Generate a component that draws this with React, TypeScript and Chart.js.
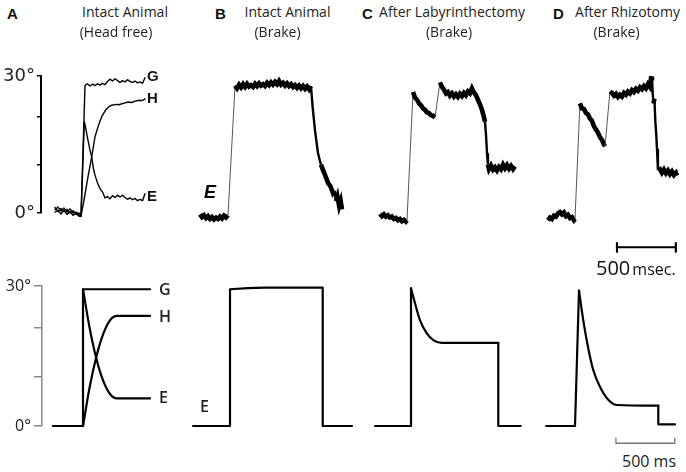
import React, { useEffect, useRef } from "react";
import { Chart, registerables } from "chart.js";

Chart.register(...registerables);

// ---------------- DATA (time in ms from step onset, angle in degrees) ----------------
const Y_TICKS = [0, 10.5, 21, 30];
const Y_TICK_LABELS = ["0°", "", "", "30°"];
const SCALE_BAR_MS = 500;
const SCALE_BAR_TOP_LABEL = ["500", "msec."];
const SCALE_BAR_BOT_LABEL = "500 ms";
const PANEL_LETTERS = ["A", "B", "C", "D"];
const PANEL_TITLES = ["Intact Animal", "Intact Animal", "After Labyrinthectomy", "After Rhizotomy"];
const PANEL_SUBTITLES = ["(Head free)", "(Brake)", "(Brake)", "(Brake)"];
const TRACE_LABELS = ["G", "H", "E"];

// Panel A, recorded (gaze G, head H, eye E)
const A_TOP_G_T = [-221, -196, -170, -145, -119, -94, -68, -43, -17, 0, 34, 55, 76, 98, 119, 140, 162, 183, 204, 225, 246, 268, 289, 310, 332, 353, 374, 395, 416, 438, 459, 480, 502, 523, 544];
const A_TOP_G = [0.7, 1.3, 0.4, 1.1, 0.2, 0.9, 0.0, 0.2, -0.4, -0.7, 27.9, 28.3, 27.8, 28.2, 27.9, 28.3, 28.0, 28.4, 28.1, 28.8, 29.3, 28.9, 29.4, 29.0, 28.6, 29.0, 28.7, 29.2, 28.8, 28.6, 28.9, 28.5, 28.7, 28.4, 29.6];
const A_TOP_H_T = [-221, -196, -170, -145, -119, -94, -68, -43, -17, 0, 30, 60, 91, 119, 150, 176, 210, 240, 261, 300, 320, 374, 400, 430, 459, 500, 520, 544];
const A_TOP_H = [0.2, 0.5, -0.2, 0.6, -0.3, 0.3, -0.5, -0.1, -0.7, -0.7, 3.5, 8.0, 12.3, 16.7, 19.3, 21.1, 22.6, 23.3, 23.6, 23.8, 23.7, 24.1, 24.3, 24.2, 24.5, 24.7, 24.6, 25.0];
const A_TOP_E_T = [-221, -196, -170, -145, -119, -94, -68, -43, -17, 0, 28, 40, 55, 76, 91, 105, 119, 140, 160, 187, 204, 225, 246, 268, 289, 310, 332, 353, 374, 395, 416, 438, 459, 480, 502, 523, 544];
const A_TOP_E = [1.2, 0.4, 1.0, 0.3, 0.8, 0.0, 0.5, -0.2, 0.0, -0.7, 20.0, 18.6, 16.5, 13.8, 12.3, 9.8, 8.3, 6.6, 5.4, 4.4, 3.3, 3.6, 3.1, 3.8, 3.4, 3.9, 3.5, 3.9, 3.4, 3.0, 3.3, 2.9, 3.2, 2.7, 3.0, 2.7, 4.2];

// Panel B, recorded eye
const B_TOP_T = [-238, -221, -204, -187, -170, -153, -136, -119, -102, -85, -68, -51, -34, -17, 0,
  60, 77, 94, 111, 128, 145, 162, 179, 196, 213, 230, 247, 264, 281, 298, 315, 332, 349, 366, 383, 400, 417, 434, 451, 468, 485, 502, 519, 536, 553, 570, 587, 604, 621, 638, 655, 672, 689, 705,
  720, 740, 765, 790, 808, 830, 850, 870, 892, 905, 918, 930, 945, 958, 969];
const B_TOP = [-0.3, -0.9, -0.5, -1.1, -0.7, -1.3, -0.9, -1.4, -1.0, -1.3, -0.8, -1.2, -0.6, -1.0, -0.5,
  27.9, 27.3, 28.1, 27.5, 28.2, 27.6, 28.3, 27.7, 28.0, 27.6, 28.3, 27.8, 28.4, 27.9, 28.2, 27.8, 28.5, 28.0, 28.6, 28.1, 28.7, 28.2, 28.9, 28.1, 28.5, 27.9, 28.4, 27.8, 28.2, 27.6, 28.0, 27.4, 27.9, 27.3, 27.8, 27.2, 27.7, 27.1, 27.8,
  23.0, 18.0, 13.1, 10.6, 9.4, 8.0, 6.6, 5.9, 4.4, 4.9, 2.6, 3.6, 1.5, 2.6, 0.8];

// Panel C, recorded eye
const C_TOP_T = [-230, -213, -196, -179, -162, -145, -128, -111, -94, -77, -60, -43, -26, -9, 0,
  51, 68, 85, 102, 119, 136, 153, 170, 187, 204, 221, 238,
  280, 297, 314, 331, 348, 365, 382, 399, 416, 433, 450, 467, 484, 501, 518, 535, 552, 569, 586, 603, 620, 637, 654, 663, 672, 680, 688,
  697, 714, 731, 748, 765, 782, 799, 816, 833, 850, 867, 884, 901, 918];
const C_TOP = [-0.2, -0.7, -0.3, -0.8, -0.5, -1.0, -0.8, -1.3, -1.1, -1.6, -1.3, -1.8, -1.5, -1.9, -1.6,
  26.5, 25.3, 24.8, 24.0, 23.6, 22.9, 22.6, 22.0, 21.9, 21.4, 21.3, 20.9,
  28.6, 27.6, 27.0, 26.2, 26.5, 25.7, 26.2, 25.5, 26.0, 25.4, 26.1, 25.6, 26.3, 25.8, 26.6, 26.2, 27.3, 26.4, 25.8, 24.8, 23.8, 22.6, 21.0, 20.0, 17.0, 13.1, 10.6,
  9.6, 10.4, 9.5, 10.0, 9.3, 10.1, 9.6, 10.6, 9.8, 10.5, 9.7, 10.3, 9.6, 10.2];

// Panel D, recorded eye
const D_TOP_T = [-230, -213, -196, -179, -162, -145, -128, -111, -94, -77, -60, -43, -26, -9, 0,
  42, 59, 76, 93, 110, 127, 144, 161, 178, 195, 212, 229, 246, 255,
  297, 314, 331, 348, 365, 382, 399, 416, 433, 450, 467, 484, 501, 518, 535, 552, 569, 586, 603, 620, 637, 646, 654, 660, 667, 675, 683, 690, 697, 705,
  722, 739, 756, 773, 790, 807, 824, 841, 858, 867];
const D_TOP = [-1.6, -1.0, -1.3, -0.6, -0.8, -0.1, 0.2, -0.3, 0.1, -0.7, -0.4, -1.1, -0.9, -1.6, -1.3,
  24.0, 22.9, 22.8, 21.9, 21.6, 20.7, 20.2, 19.0, 18.3, 17.6, 16.6, 16.0, 15.0, 14.6,
  26.6, 26.3, 25.7, 26.1, 25.4, 25.9, 25.5, 26.3, 25.9, 26.6, 26.2, 26.9, 26.5, 27.2, 26.8, 27.5, 27.1, 27.8, 27.3, 28.2, 27.6, 29.5, 29.9, 26.5, 24.0, 25.0, 20.0, 17.5, 14.0, 9.4,
  9.6, 8.8, 9.5, 8.7, 9.3, 8.5, 9.1, 8.3, 8.8, 8.2];

// Model traces (bottom row)
const A_BOT_G_T = [-255, 0, 0, 570];
const A_BOT_G = [0, 0, 29.3, 29.3];
const A_BOT_H_T = [0, 58, 116, 173, 231, 289, 570];
const A_BOT_H = [0, 8.5, 15.1, 19.8, 22.7, 23.6, 23.6];
const A_BOT_E_T = [0, 58, 116, 173, 231, 289, 570];
const A_BOT_E = [29.3, 20.8, 14.2, 9.6, 6.8, 5.9, 5.9];

const B_BOT_T = [-314, 0, 0, 150, 297, 788, 788, 1037];
const B_BOT = [0, 0, 29.3, 29.55, 29.66, 29.66, 0, 0];

const C_BOT_ON_T = [-306, 0, 0];
const C_BOT_ON = [0, 0, 29.5];
const C_BOT_DECAY_T = [0, 34, 76, 133, 190, 261, 742];
const C_BOT_DECAY = [29.5, 26.3, 22.7, 19.9, 18.4, 17.8, 17.8];
const C_BOT_OFF_T = [742, 742, 932];
const C_BOT_OFF = [17.8, 0, 0];

const D_BOT_ON_T = [-246, 0, 34];
const D_BOT_ON = [0, 0, 29.0];
const D_BOT_DECAY_T = [34, 70, 113, 155, 212, 283, 354, 708];
const D_BOT_DECAY = [29.0, 22.7, 16.6, 12.0, 8.4, 5.6, 4.5, 4.35];
const D_BOT_OFF_T = [708, 708, 850];
const D_BOT_OFF = [4.35, 0.35, 0.35];

// scale bars
const TOP_BAR_START = 357;
const TOP_BAR_LEVEL = -7.5;
const TOP_BAR_TICKS = [-6.6, -8.5];
const BOT_BAR_START = 348;
const BOT_BAR_LEVEL = -3.7;
const BOT_BAR_TICK_TOP = -2.6;

// ---------------- LAYOUT ----------------
const MS_PER_PX = 8.5;
const ROW_TOP = { top: 40, height: 220, zeroY: 213, y30: 76 };
const ROW_BOT = { top: 270, height: 180, zeroY: 426, y30: 286 };
const COLS = [
  { left: 0, width: 190 },
  { left: 190, width: 170 },
  { left: 360, width: 170 },
  { left: 530, width: 156 },
];
const ONSET_TOP = [81, 228, 407, 575];
const ONSET_BOT = [83, 230, 411, 575];

type Series = {
  t: number[];
  y: number[];
  width?: number;
  color?: string;
  curve?: boolean;
  variable?: boolean;
};

type AxisStyle = {
  color: string;
  borderWidth: number;
  tickLength: number;
  padding: number;
  font: { family: string; size: number };
};

type PanelProps = {
  left: number;
  width: number;
  top: number;
  height: number;
  zeroY: number;
  y30: number;
  areaLeft: number;
  onsetX: number;
  series: Series[];
  axis?: AxisStyle;
};

const segWidth = (ctx: any) => {
  const dy = Math.abs(ctx.p1.y - ctx.p0.y);
  return dy > 25 ? 1 : dy > 10 ? 2.4 : 4.6;
};
const segColor = (ctx: any) => (Math.abs(ctx.p1.y - ctx.p0.y) > 25 ? "#555" : "#000");

function Panel(p: PanelProps) {
  const ref = useRef<HTMLCanvasElement>(null);
  useEffect(() => {
    if (!ref.current) return;
    const xMin = (p.areaLeft - p.onsetX) * MS_PER_PX;
    const xMax = (p.left + p.width - p.onsetX) * MS_PER_PX;
    const axisW = p.areaLeft - p.left;
    const ax = p.axis;
    const chart = new Chart(ref.current, {
      type: "line",
      data: {
        datasets: p.series.map((s) => ({
          data: s.t.map((t, i) => ({ x: t, y: s.y[i] })),
          borderColor: s.color ?? "#000",
          borderWidth: s.width ?? 2,
          pointRadius: 0,
          tension: 0,
          cubicInterpolationMode: s.curve ? "monotone" : "default",
          clip: false as any,
          fill: false,
          borderJoinStyle: s.variable ? "miter" : "round",
          borderCapStyle: s.variable ? "butt" : "round",
          segment: s.variable ? { borderWidth: segWidth, borderColor: segColor } : undefined,
        })) as any,
      },
      options: {
        animation: false,
        responsive: false,
        events: [],
        layout: {
          padding: { left: 0, right: 0, top: p.y30 - p.top, bottom: p.top + p.height - p.zeroY },
        },
        plugins: { legend: { display: false }, tooltip: { enabled: false }, title: { display: false } },
        scales: {
          x: { type: "linear", min: xMin, max: xMax, display: false },
          y: {
            type: "linear",
            min: 0,
            max: 30,
            position: "left",
            display: !!ax,
            afterBuildTicks: (scale: any) => {
              scale.ticks = Y_TICKS.map((v) => ({ value: v }));
            },
            afterFit: (scale: any) => {
              if (ax) {
                scale.width = axisW;
                scale.paddingTop = 0;
                scale.paddingBottom = 0;
              }
            },
            ticks: {
              padding: ax ? ax.padding : 0,
              color: "#222",
              font: ax ? ax.font : undefined,
              callback: (v: any) => {
                const i = Y_TICKS.indexOf(Number(v));
                return i >= 0 ? Y_TICK_LABELS[i] : "";
              },
            },
            grid: {
              drawOnChartArea: false,
              drawTicks: true,
              tickLength: ax ? ax.tickLength : 0,
              color: ax ? ax.color : "#000",
              lineWidth: 1.5,
            },
            border: { display: !!ax, color: ax ? ax.color : "#000", width: ax ? ax.borderWidth : 0 },
          } as any,
        },
      },
    });
    return () => chart.destroy();
  }, []);
  return (
    <canvas
      ref={ref}
      width={p.width}
      height={p.height}
      style={{ position: "absolute", left: p.left, top: p.top, width: p.width, height: p.height }}
    />
  );
}

type TextProps = {
  x: number;
  y: number;
  size: number;
  family?: string;
  weight?: string | number;
  italic?: boolean;
  center?: boolean;
  color?: string;
  children: React.ReactNode;
};
function Txt(t: TextProps) {
  return (
    <div
      style={{
        position: "absolute",
        left: t.x,
        top: t.y,
        fontSize: t.size,
        lineHeight: 1,
        fontFamily: t.family ?? "'Open Sans', sans-serif",
        fontWeight: t.weight ?? 400,
        fontStyle: t.italic ? "italic" : "normal",
        color: t.color ?? "#222",
        whiteSpace: "nowrap",
        transform: t.center ? "translateX(-50%)" : undefined,
      }}
    >
      {t.children}
    </div>
  );
}

export default function App() {
  const topAxis: AxisStyle = {
    color: "#000",
    borderWidth: 2,
    tickLength: 4,
    padding: 2,
    font: { family: "DejaVu Sans", size: 18 },
  };
  const botAxis: AxisStyle = {
    color: "#888",
    borderWidth: 1.5,
    tickLength: 8,
    padding: 3,
    font: { family: "Open Sans", size: 16 },
  };

  const thick = (t: number[], y: number[]): Series => ({ t, y, variable: true });
  const model = (t: number[], y: number[], curve = false): Series => ({ t, y, width: 2.2, curve });

  const topSeries: Series[][] = [
    [
      { t: A_TOP_G_T, y: A_TOP_G, width: 1.4 },
      { t: A_TOP_H_T, y: A_TOP_H, width: 1.4 },
      { t: A_TOP_E_T, y: A_TOP_E, width: 1.4 },
    ],
    [thick(B_TOP_T, B_TOP)],
    [thick(C_TOP_T, C_TOP)],
    [
      thick(D_TOP_T, D_TOP),
      {
        t: [TOP_BAR_START, TOP_BAR_START, TOP_BAR_START, TOP_BAR_START + SCALE_BAR_MS, TOP_BAR_START + SCALE_BAR_MS, TOP_BAR_START + SCALE_BAR_MS],
        y: [TOP_BAR_TICKS[0], TOP_BAR_TICKS[1], TOP_BAR_LEVEL, TOP_BAR_LEVEL, TOP_BAR_TICKS[0], TOP_BAR_TICKS[1]],
        width: 2.2,
      },
    ],
  ];
  const botSeries: Series[][] = [
    [model(A_BOT_G_T, A_BOT_G), model(A_BOT_H_T, A_BOT_H, true), model(A_BOT_E_T, A_BOT_E, true)],
    [model(B_BOT_T, B_BOT)],
    [model(C_BOT_ON_T, C_BOT_ON), model(C_BOT_DECAY_T, C_BOT_DECAY, true), model(C_BOT_OFF_T, C_BOT_OFF)],
    [
      model(D_BOT_ON_T, D_BOT_ON),
      model(D_BOT_DECAY_T, D_BOT_DECAY, true),
      model(D_BOT_OFF_T, D_BOT_OFF),
      {
        t: [BOT_BAR_START, BOT_BAR_START, BOT_BAR_START + SCALE_BAR_MS, BOT_BAR_START + SCALE_BAR_MS],
        y: [BOT_BAR_TICK_TOP, BOT_BAR_LEVEL, BOT_BAR_LEVEL, BOT_BAR_TICK_TOP],
        width: 1.3,
        color: "#777",
      },
    ],
  ];

  const letterX = [7, 215, 362, 553];
  const titleCx = [125, 287.5, 452, 627.5];
  const subCx = [116, 277.5, 449, 616.5];
  const narrow = "'Liberation Sans Narrow', 'Liberation Sans', sans-serif";

  return (
    <div
      style={{
        position: "fixed",
        left: 0,
        top: 0,
        width: 686,
        height: 472,
        background: "#fff",
        overflow: "hidden",
      }}
    >
      {COLS.map((c, i) => (
        <Panel
          key={"t" + i}
          left={c.left}
          width={c.width}
          top={ROW_TOP.top}
          height={ROW_TOP.height}
          zeroY={ROW_TOP.zeroY}
          y30={ROW_TOP.y30}
          areaLeft={i === 0 ? 41 : c.left}
          onsetX={ONSET_TOP[i]}
          series={topSeries[i]}
          axis={i === 0 ? topAxis : undefined}
        />
      ))}
      {COLS.map((c, i) => (
        <Panel
          key={"b" + i}
          left={c.left}
          width={c.width}
          top={ROW_BOT.top}
          height={ROW_BOT.height}
          zeroY={ROW_BOT.zeroY}
          y30={ROW_BOT.y30}
          areaLeft={i === 0 ? 42 : c.left}
          onsetX={ONSET_BOT[i]}
          series={botSeries[i]}
          axis={i === 0 ? botAxis : undefined}
        />
      ))}

      {PANEL_LETTERS.map((l, i) => (
        <Txt key={"l" + i} x={letterX[i]} y={6} size={15} family="'Liberation Sans', Arial, sans-serif" weight={700} color="#111">
          {l}
        </Txt>
      ))}
      {PANEL_TITLES.map((t, i) => (
        <Txt key={"ti" + i} x={titleCx[i]} y={5} size={14} center>
          {t}
        </Txt>
      ))}
      {PANEL_SUBTITLES.map((t, i) => (
        <Txt key={"st" + i} x={subCx[i]} y={25} size={14} center>
          {t}
        </Txt>
      ))}

      {/* recorded trace labels, panel A */}
      <Txt x={147} y={68} size={15} family={narrow} weight={700} color="#111">{TRACE_LABELS[0]}</Txt>
      <Txt x={147} y={90} size={15} family={narrow} weight={700} color="#111">{TRACE_LABELS[1]}</Txt>
      <Txt x={147} y={188} size={15} family={narrow} weight={700} color="#111">{TRACE_LABELS[2]}</Txt>
      {/* recorded E label, panel B */}
      <Txt x={204} y={183} size={18} family="'Liberation Sans', Arial, sans-serif" weight={700} italic color="#000">{TRACE_LABELS[2]}</Txt>

      {/* model labels */}
      <Txt x={159} y={281} size={16} weight={600}>{TRACE_LABELS[0]}</Txt>
      <Txt x={159} y={308} size={16} weight={600}>{TRACE_LABELS[1]}</Txt>
      <Txt x={159} y={389} size={16} weight={600}>{TRACE_LABELS[2]}</Txt>
      <Txt x={200} y={398} size={16} weight={600}>{TRACE_LABELS[2]}</Txt>

      {/* scale bar labels */}
      <div
        style={{
          position: "absolute",
          left: 596,
          top: 258,
          lineHeight: 1,
          fontFamily: "'Open Sans', sans-serif",
          color: "#111",
          whiteSpace: "nowrap",
        }}
      >
        <span style={{ fontSize: 20, fontWeight: 500 }}>{SCALE_BAR_TOP_LABEL[0]}</span>
        <span style={{ fontSize: 16, marginLeft: 2 }}>{SCALE_BAR_TOP_LABEL[1]}</span>
      </div>
      <Txt x={622} y={453} size={16}>{SCALE_BAR_BOT_LABEL}</Txt>
    </div>
  );
}
